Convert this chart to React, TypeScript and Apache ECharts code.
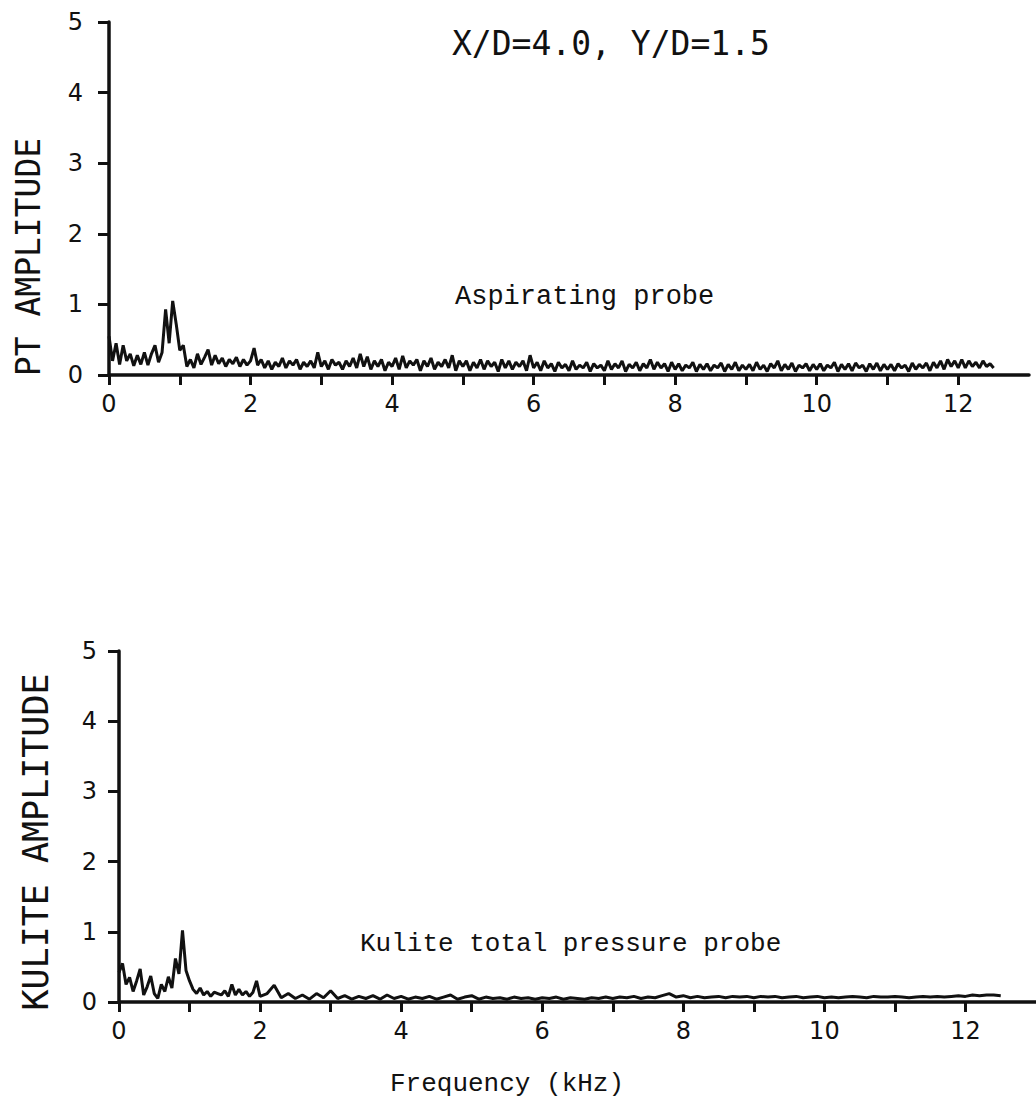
import React, { useEffect, useRef } from "react";
import * as echarts from "echarts";

// ---- DATA ----
// Aspirating probe (PT amplitude): sampled every 0.05 kHz from 0 to 12.5 kHz
const PT_START = 0;
const PT_STEP = 0.05;
const ptAmplitude = [
  // 0.00 – 0.95
  0.55, 0.2, 0.45, 0.15, 0.42, 0.2, 0.3, 0.13, 0.28, 0.15,
  0.32, 0.14, 0.3, 0.42, 0.18, 0.32, 0.93, 0.45, 1.05, 0.72,
  // 1.00 – 1.95
  0.35, 0.42, 0.12, 0.22, 0.1, 0.3, 0.15, 0.25, 0.36, 0.14,
  0.28, 0.16, 0.24, 0.12, 0.22, 0.16, 0.25, 0.12, 0.22, 0.14,
  // 2.00 – 2.95
  0.2, 0.38, 0.14, 0.22, 0.1, 0.2, 0.08, 0.18, 0.12, 0.24,
  0.1, 0.2, 0.14, 0.22, 0.08, 0.18, 0.12, 0.2, 0.1, 0.32,
  // 3.00 – 3.95
  0.12, 0.2, 0.08, 0.22, 0.14, 0.18, 0.08, 0.2, 0.12, 0.24,
  0.1, 0.3, 0.12, 0.26, 0.08, 0.2, 0.12, 0.22, 0.06, 0.18,
  // 4.00 – 4.95
  0.12, 0.24, 0.08, 0.27, 0.1, 0.2, 0.14, 0.22, 0.06, 0.2,
  0.12, 0.24, 0.08, 0.18, 0.12, 0.22, 0.1, 0.28, 0.06, 0.2,
  // 5.00 – 5.95
  0.12, 0.2, 0.06, 0.18, 0.1, 0.22, 0.08, 0.2, 0.12, 0.18,
  0.05, 0.22, 0.1, 0.2, 0.08, 0.18, 0.12, 0.2, 0.06, 0.28,
  // 6.00 – 6.95
  0.1, 0.18, 0.06, 0.2, 0.1, 0.16, 0.05, 0.18, 0.1, 0.15,
  0.06, 0.2, 0.08, 0.14, 0.1, 0.18, 0.05, 0.16, 0.1, 0.14,
  // 7.00 – 7.95
  0.06, 0.2, 0.08, 0.16, 0.1, 0.2, 0.05, 0.15, 0.1, 0.18,
  0.06, 0.16, 0.1, 0.22, 0.08, 0.18, 0.1, 0.16, 0.05, 0.18,
  // 8.00 – 8.95
  0.08, 0.16, 0.06, 0.14, 0.1, 0.18, 0.05, 0.15, 0.08, 0.16,
  0.06, 0.14, 0.1, 0.17, 0.05, 0.15, 0.08, 0.18, 0.06, 0.14,
  // 9.00 – 9.95
  0.08, 0.15, 0.06, 0.18, 0.08, 0.14, 0.05, 0.16, 0.1, 0.2,
  0.06, 0.15, 0.08, 0.17, 0.05, 0.14, 0.1, 0.16, 0.06, 0.15,
  // 10.00 – 10.95
  0.08, 0.16, 0.06, 0.14, 0.1, 0.18, 0.05, 0.15, 0.08, 0.16,
  0.06, 0.17, 0.1, 0.14, 0.05, 0.16, 0.08, 0.17, 0.06, 0.15,
  // 11.00 – 11.95
  0.08, 0.15, 0.06, 0.16, 0.1, 0.14, 0.05, 0.17, 0.08, 0.15,
  0.1, 0.17, 0.06, 0.18, 0.1, 0.2, 0.08, 0.22, 0.12, 0.2,
  // 12.00 – 12.50
  0.1, 0.22, 0.1, 0.2, 0.12, 0.18, 0.1, 0.2, 0.12, 0.16,
  0.1,
];

// Kulite total pressure probe: every 0.05 kHz to 2.0 kHz, then every 0.1 kHz to 12.5 kHz
const KUL_LOW_STEP = 0.05;
const KUL_HIGH_START = 2.1;
const KUL_HIGH_STEP = 0.1;
const kuliteLowBand = [
  0.42, 0.55, 0.25, 0.35, 0.15, 0.3, 0.47, 0.1, 0.22, 0.37,
  0.12, 0.05, 0.25, 0.15, 0.36, 0.2, 0.62, 0.4, 1.02, 0.45,
  0.3, 0.18, 0.12, 0.2, 0.1, 0.15, 0.08, 0.14, 0.12, 0.1,
  0.16, 0.08, 0.25, 0.1, 0.18, 0.1, 0.15, 0.08, 0.14, 0.3,
  0.08,
];
const kuliteHighBand = [
  0.12, 0.24, 0.06, 0.12, 0.05, 0.1, 0.04, 0.12, 0.06,
  0.16, 0.05, 0.09, 0.04, 0.08, 0.05, 0.09, 0.04, 0.1, 0.05,
  0.08, 0.04, 0.07, 0.05, 0.08, 0.04, 0.07, 0.1, 0.04, 0.07,
  0.09, 0.04, 0.07, 0.05, 0.06, 0.04, 0.07, 0.05, 0.06, 0.04,
  0.06, 0.05, 0.07, 0.04, 0.06, 0.05, 0.04, 0.06, 0.05, 0.07,
  0.05, 0.07, 0.06, 0.08, 0.05, 0.07, 0.06, 0.09, 0.12, 0.07,
  0.09, 0.06, 0.08, 0.06, 0.07, 0.08, 0.06, 0.08, 0.07, 0.08,
  0.06, 0.08, 0.07, 0.08, 0.06, 0.07, 0.08, 0.06, 0.07, 0.08,
  0.06, 0.07, 0.06, 0.07, 0.08, 0.07, 0.06, 0.08, 0.07, 0.07,
  0.08, 0.07, 0.06, 0.07, 0.08, 0.07, 0.08, 0.07, 0.08, 0.09,
  0.08, 0.1, 0.09, 0.1, 0.1, 0.09,
];

const xTickValues = [0, 1, 2, 3, 4, 5, 6, 7, 8, 9, 10, 11, 12];
const xLabelValues = [0, 2, 4, 6, 8, 10, 12];

const TITLE = "X/D=4.0, Y/D=1.5";
const TOP_YNAME = "PT AMPLITUDE";
const BOTTOM_YNAME = "KULITE AMPLITUDE";
const TOP_NOTE = "Aspirating probe";
const BOTTOM_NOTE = "Kulite total pressure probe";
const XNAME = "Frequency (kHz)";

function sampled(values: number[], start: number, step: number): number[][] {
  return values.map((v, i) => [+(start + i * step).toFixed(2), v]);
}

const PLOT_FONT = "'DejaVu Sans Mono', monospace";
const TYPE_FONT = "'Liberation Mono', 'DejaVu Sans Mono', monospace";
const TICK_FONT = "'DejaVu Sans', sans-serif";
const INK = "#111";

function makeXAxis(gridIndex: number, margin: number) {
  return {
    type: "value",
    gridIndex,
    min: 0,
    max: 13,
    interval: 1,
    axisLine: { show: true, onZero: false, lineStyle: { color: INK, width: 3.5 } },
    axisTick: {
      show: true,
      inside: false,
      length: 10,
      customValues: xTickValues,
      lineStyle: { color: INK, width: 3 },
    },
    axisLabel: {
      show: true,
      customValues: xLabelValues,
      margin,
      color: INK,
      fontSize: 24,
      fontFamily: TICK_FONT,
    },
    splitLine: { show: false },
  };
}

function makeYAxis(gridIndex: number, margin: number) {
  return {
    type: "value",
    gridIndex,
    min: 0,
    max: 5,
    interval: 1,
    axisLine: { show: true, onZero: false, lineStyle: { color: INK, width: 3.5 } },
    axisTick: { show: true, inside: false, length: 11, lineStyle: { color: INK, width: 3 } },
    axisLabel: { show: true, margin, color: INK, fontSize: 24, fontFamily: TICK_FONT },
    splitLine: { show: false },
  };
}

function textEl(text: string, x: number, y: number, fontSize: number, fontFamily: string, align: string, rotation = 0) {
  return {
    type: "text",
    x,
    y,
    rotation,
    silent: true,
    style: {
      text,
      fontSize,
      fontFamily,
      fill: INK,
      textAlign: align,
      align,
      textVerticalAlign: "middle",
      verticalAlign: "middle",
    },
  };
}

export default function App() {
  const ref = useRef<HTMLDivElement>(null);

  useEffect(() => {
    if (!ref.current) return;
    const chart = echarts.init(ref.current, undefined, { renderer: "svg" });
    const kuliteData = [
      ...sampled(kuliteLowBand, 0, KUL_LOW_STEP),
      ...sampled(kuliteHighBand, KUL_HIGH_START, KUL_HIGH_STEP),
    ];
    chart.setOption({
      animation: false,
      backgroundColor: "#fff",
      title: {
        text: TITLE,
        left: 452,
        top: 27,
        padding: 0,
        textStyle: { fontFamily: PLOT_FONT, fontSize: 33, fontWeight: "normal", color: INK },
      },
      grid: [
        { left: 109, top: 22, width: 920, height: 353 },
        { left: 119, top: 651, width: 919, height: 351 },
      ],
      xAxis: [makeXAxis(0, 17), makeXAxis(1, 17)],
      yAxis: [makeYAxis(0, 26), makeYAxis(1, 22)],
      series: [
        {
          name: TOP_NOTE,
          type: "line",
          xAxisIndex: 0,
          yAxisIndex: 0,
          data: sampled(ptAmplitude, PT_START, PT_STEP),
          showSymbol: false,
          symbol: "none",
          lineStyle: { color: INK, width: 3 },
          z: 3,
        },
        {
          name: BOTTOM_NOTE,
          type: "line",
          xAxisIndex: 1,
          yAxisIndex: 1,
          data: kuliteData,
          showSymbol: false,
          symbol: "none",
          lineStyle: { color: INK, width: 3 },
          z: 3,
        },
      ],
      graphic: [
        textEl(TOP_YNAME, 28, 257, 33, PLOT_FONT, "center", Math.PI / 2),
        textEl(BOTTOM_YNAME, 36, 842, 35, PLOT_FONT, "center", Math.PI / 2),
        textEl(TOP_NOTE, 455, 297, 27, TYPE_FONT, "left"),
        textEl(BOTTOM_NOTE, 360, 944, 26, TYPE_FONT, "left"),
        textEl(XNAME, 390, 1084, 26, TYPE_FONT, "left"),
      ],
    });
    return () => chart.dispose();
  }, []);

  return (
    <div
      ref={ref}
      style={{ position: "absolute", left: 0, top: 0, width: 1036, height: 1100, background: "#fff" }}
    />
  );
}
